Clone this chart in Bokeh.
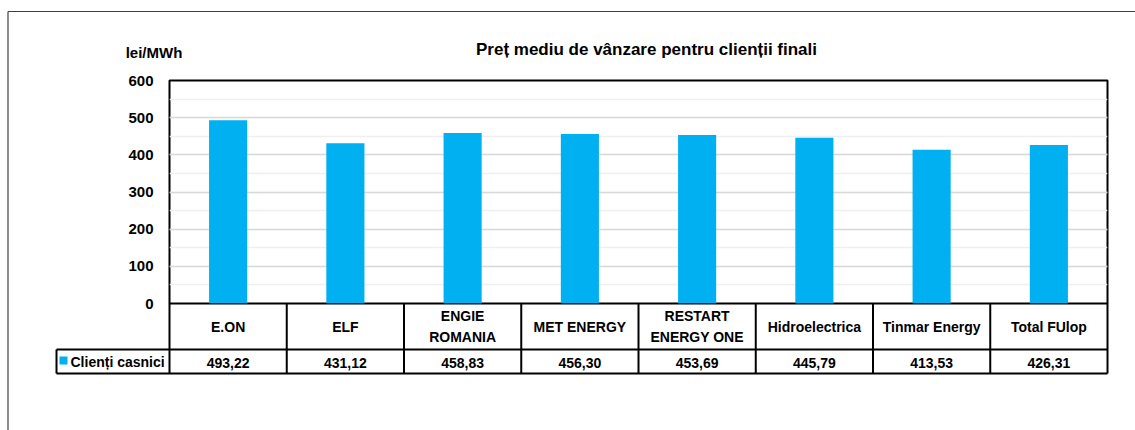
from bokeh.plotting import figure
from bokeh.models import Range1d, SingleIntervalTicker
from bokeh.core.properties import value
from bokeh.embed import file_html
from bokeh.resources import INLINE

# ---------------- data ----------------
title_text = "Preț mediu de vânzare pentru clienții finali"
y_unit = "lei/MWh"
series_name = "Clienți casnici"
categories = ["E.ON", "ELF", "ENGIE\nROMANIA", "MET ENERGY", "RESTART\nENERGY ONE",
              "Hidroelectrica", "Tinmar Energy", "Total FUlop"]
values = [493.22, 431.12, 458.83, 456.30, 453.69, 445.79, 413.53, 426.31]
y_max = 600
y_interval = 100

# ---------------- layout (page pixels) ----------------
PAGE = 0
W, H = 1135, 430
FL, FR, FT, FB = 169, 1107, 80, 303     # plot area
ROW1_B, ROW2_B, LEG_L = 349, 373, 56    # data table
N = len(categories)

FONT = value("Liberation Sans")
BAR_COLOR = "#00B0F0"


def xd(px):
    return (px - FL) / (FR - FL) * N


def yd(py):
    return (FB - py) / (FB - FT) * y_max


p = figure(width=W, height=H, output_backend="svg", toolbar_location=None,
           x_range=Range1d(0, N), y_range=Range1d(0, y_max),
           x_axis_location=None, min_border=0,
           min_border_left=FL - PAGE, min_border_right=PAGE + W - FR,
           min_border_top=FT - PAGE, min_border_bottom=PAGE + H - FB)

p.background_fill_color = "white"
p.border_fill_color = "white"
p.outline_line_color = "black"
p.outline_line_width = 2

ticker = SingleIntervalTicker(interval=y_interval, num_minor_ticks=2)
p.yaxis.ticker = ticker
p.yaxis.axis_line_color = None
p.yaxis.major_tick_line_color = None
p.yaxis.minor_tick_line_color = None
p.yaxis.major_tick_out = 0
p.yaxis.major_label_standoff = 12
p.yaxis.major_label_text_font = "Liberation Sans"
p.yaxis.major_label_text_font_style = "bold"
p.yaxis.major_label_text_font_size = "15px"
p.yaxis.major_label_text_color = "black"

p.xgrid.visible = False
p.ygrid.ticker = ticker
p.ygrid.grid_line_color = "#d9d9d9"
p.ygrid.grid_line_width = 1.5
p.ygrid.minor_grid_line_color = "#efefef"
p.ygrid.minor_grid_line_width = 1.5

# bars
xs = [i + 0.5 for i in range(N)]
p.vbar(x=xs, top=values, width=0.325, bottom=0, fill_color=BAR_COLOR, line_color=None)

# ---------------- data table ----------------
line_kw = dict(line_color="black", line_width=2, level="overlay")
# horizontal lines
p.segment(x0=[xd(LEG_L), xd(LEG_L)], y0=[yd(ROW1_B), yd(ROW2_B)],
          x1=[N, N], y1=[yd(ROW1_B), yd(ROW2_B)], **line_kw)
# vertical lines between categories
p.segment(x0=list(range(N + 1)), y0=[0] * (N + 1),
          x1=list(range(N + 1)), y1=[yd(ROW2_B)] * (N + 1), **line_kw)
# legend cell left border
p.segment(x0=[xd(LEG_L)], y0=[yd(ROW1_B)], x1=[xd(LEG_L)], y1=[yd(ROW2_B)], **line_kw)

text_kw = dict(text_font=FONT, text_font_style="bold", text_color="black",
               text_font_size=value("14px"), level="overlay")
p.text(x=xs, y=[yd(326)] * N, text=categories, text_align="center",
       text_baseline="middle", text_line_height=1.3, **text_kw)
labels = [f"{v:.2f}".replace(".", ",") for v in values]
p.text(x=xs, y=[yd(362)] * N, text=labels, text_align="center",
       text_baseline="middle", **text_kw)

# legend key
p.quad(left=[xd(59)], right=[xd(67)], top=[yd(356)], bottom=[yd(364)],
       fill_color=BAR_COLOR, line_color=None, level="overlay")
p.text(x=[xd(70)], y=[yd(361)], text=[series_name], text_align="left",
       text_baseline="middle", **text_kw)

# title and unit
p.text(x=[xd(646)], y=[yd(48.5)], text=[title_text], text_align="center",
       text_baseline="middle", text_font=FONT, text_font_style="bold",
       text_font_size=value("17px"), text_color="black", level="overlay")
p.text(x=[xd(153.5)], y=[yd(52)], text=[y_unit], text_align="center",
       text_baseline="middle", text_font=FONT, text_font_style="bold",
       text_font_size=value("15px"), text_color="black", level="overlay")

# outer chart frame
p.segment(x0=[xd(7.5), xd(7.5)], y0=[yd(11), yd(11)],
          x1=[xd(1140), xd(7.5)], y1=[yd(11), yd(440)],
          line_color="#404040", line_width=1.2, level="overlay")

open("out.html", "w").write(file_html(p, INLINE))
